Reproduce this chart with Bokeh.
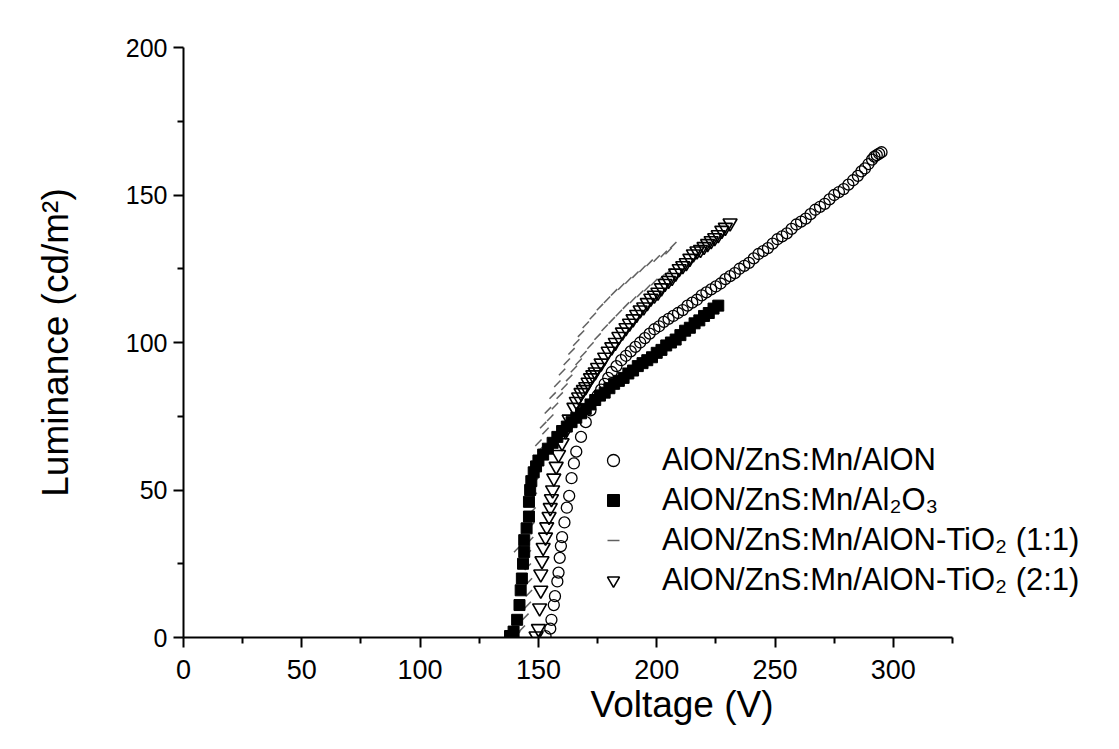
from bokeh.plotting import figure
from bokeh.models import Range1d, Legend, LegendItem, FixedTicker, Title
from bokeh.embed import file_html
from bokeh.resources import INLINE

# ---- data ----
alon_v = [153, 155, 155.5, 156.5, 157, 158, 158.5, 159, 159.5, 160, 161, 162, 163, 164, 165, 166,
          168, 170, 172, 174, 175, 176.5, 178, 179.5, 181, 183, 185, 187, 189, 191, 193, 195, 197,
          199, 201, 203, 205, 207, 209, 211, 213, 215, 217, 219, 221, 223, 225, 227, 229, 231, 233,
          235, 237, 239, 241, 243, 245, 247, 249, 251, 253, 255, 257, 259, 261, 263, 265, 267, 269,
          271, 273, 275, 277, 279, 281, 283, 285, 286.5, 288, 289.5, 291, 292, 293, 294, 295]
alon_l = [0.5, 3, 6, 11, 14, 19, 22, 27, 31, 34, 39, 44, 48, 54, 59, 63,
          68, 73, 77, 80.5, 82, 84, 86, 88, 90, 92, 94, 95.5, 97, 98.5, 100, 101.5, 103,
          104.5, 105.5, 107, 108, 109, 110, 111, 112.5, 113.5, 114.5, 116, 117, 118, 119, 120, 121.5, 122.5, 123.5,
          125, 126, 127, 128.5, 130, 131, 132, 133.5, 135, 136, 137, 138.5, 140, 141, 142, 143.5, 145, 146,
          147, 148.5, 150, 151, 152, 153.5, 155, 156.5, 158, 159, 160.5, 162, 163, 163.5, 164, 164.5]

al2o3_v = [138, 139.5, 141, 142, 142.5, 143, 143.5, 144, 144, 145, 146, 146, 146.5, 147, 148, 149,
           150, 152, 154, 156, 158, 160, 162, 164, 166, 168, 170, 172, 174, 176, 178, 180, 182, 184,
           186, 188, 190, 192, 194, 196, 198, 200, 202, 204, 206, 208, 210, 212, 214, 216, 218, 220,
           222, 224, 226]
al2o3_l = [0.5, 2, 6, 11, 16, 20, 25, 29, 33, 37, 41, 46, 50, 53, 56, 58,
           60, 62, 64, 66, 68, 70, 71.5, 73, 74.5, 76, 77.5, 79, 80.5, 82, 83, 84.5, 86, 87,
           88, 89.5, 90.5, 92, 93, 94, 95, 96.5, 97.5, 99, 100, 101, 102.5, 104, 105, 106.5, 107.5, 109,
           110, 111.5, 112.5]

tio11_v = [141, 141, 143, 144.5, 145.5, 146, 146, 145.5, 145.5, 146.5, 147, 147.5, 148, 148.5,
           149, 151, 153, 155, 157, 159, 161, 163, 165, 167, 169, 172, 175, 178, 181, 184, 187,
           190, 193, 196, 199, 202, 205,
           150, 152, 154, 156, 158, 160, 162, 164, 166, 168, 170, 173, 176, 179, 182, 185, 188,
           191, 194, 197, 200, 203, 205, 207]
tio11_l = [1, 30, 3, 7, 11, 15, 19, 24, 28.5, 33, 38, 43, 48, 53,
           57, 64, 70, 74.5, 78.5, 82, 85, 88, 91, 93.5, 96, 99, 102, 105, 107.5, 110, 112.5,
           114.5, 116.5, 118.5, 120.5, 122, 124,
           66, 72, 77, 82, 86, 90, 93.5, 97, 100, 103, 106, 109, 112, 114.5, 117, 119, 121,
           123, 125, 127, 128.5, 130, 131, 133]

tio21_v = [149, 150, 150.5, 151, 151, 151.5, 152, 153, 153.5, 154.5, 155, 155.5, 156, 156.5, 157.5, 158.5,
           160, 161.5, 163, 165, 166, 167, 168, 169, 170, 171, 172, 173, 174, 175, 176.5, 178,
           179.5, 181, 182.5, 184, 185.5, 187, 188.5, 190, 191.5, 193, 194.5, 196, 197.5, 199,
           200.5, 202, 203.5, 205, 206.5, 208, 209.5, 211, 212.5, 214, 215.5, 217, 218.5, 220,
           221.5, 223, 224.5, 226, 227.5, 229, 231]
tio21_l = [0.5, 3, 10, 16, 21.5, 26, 30.5, 34, 37.5, 41, 44, 47, 50, 54, 58, 62,
           66, 70, 74, 78, 80, 81.5, 83, 84, 85, 86.5, 88, 89, 90, 91.5, 93, 95,
           97, 98.5, 100, 102, 103.5, 105, 106.5, 108, 109.5, 111, 112, 113.5, 115, 116,
           117, 118.5, 120, 121, 122, 123.5, 125, 126, 127, 128.5, 130, 131, 131.5, 132.5,
           133.5, 134.5, 135.5, 136.5, 138, 139, 140.5]

labels = ["AlON/ZnS:Mn/AlON", "AlON/ZnS:Mn/Al\u2082O\u2083",
          "AlON/ZnS:Mn/AlON-TiO\u2082 (1:1)", "AlON/ZnS:Mn/AlON-TiO\u2082 (2:1)"]
x_ticks = [0, 50, 100, 150, 200, 250, 300]
x_minor = [25, 75, 125, 175, 225, 275, 325]
y_ticks = [0, 50, 100, 150, 200]
y_minor = [25, 75, 125, 175]

FONT = "Liberation Sans"

# frame: x 183..1111 px, axis drawn only over 0..325 V (769 px)
p = figure(width=1115, height=745, output_backend="svg", toolbar_location=None,
           x_range=Range1d(0, 325 * 928 / 769), y_range=Range1d(0, 200),
           min_border_left=183, min_border_right=4, min_border_top=47, min_border_bottom=108)
p.outline_line_color = None
p.xgrid.visible = False
p.ygrid.visible = False
p.background_fill_color = "white"
p.border_fill_color = "white"

for ax in (p.xaxis[0], p.yaxis[0]):
    ax.axis_line_width = 2
    ax.axis_line_color = "black"
    ax.major_tick_line_width = 2
    ax.minor_tick_line_width = 2
    ax.major_tick_out = 10
    ax.major_tick_in = 0
    ax.minor_tick_out = 6
    ax.minor_tick_in = 0
    ax.major_label_text_font = FONT
    ax.major_label_text_color = "black"
    ax.axis_label_text_font = FONT
    ax.axis_label_text_font_size = "37px"
    ax.axis_label_text_font_style = "normal"
    ax.axis_label_text_color = "black"

p.xaxis[0].bounds = (0, 325)
p.xaxis[0].ticker = FixedTicker(ticks=x_ticks, minor_ticks=x_minor)
p.yaxis[0].ticker = FixedTicker(ticks=y_ticks, minor_ticks=y_minor)
p.xaxis[0].major_label_text_font_size = "27px"
p.yaxis[0].major_label_text_font_size = "25px"
p.yaxis[0].axis_label = "Luminance (cd/m\u00b2)"
p.xaxis[0].major_label_standoff = 12
p.yaxis[0].major_label_standoff = 6
p.yaxis[0].axis_label_standoff = 47

p.add_layout(Title(text="Voltage (V)", align="left", offset=407, standoff=0,
                   text_font=FONT, text_font_size="37px", text_font_style="normal",
                   text_color="black"), "below")

r_11 = p.scatter(tio11_v, tio11_l, marker="dash", size=9, angle=0.8,
                 line_color="#606060", line_width=1.5)
r_alon = p.scatter(alon_v, alon_l, marker="circle", size=11, fill_color="white",
                   fill_alpha=0.0, line_color="black", line_width=1.3)
r_21 = p.scatter(tio21_v, tio21_l, marker="inverted_triangle", size=14, fill_color="white",
                 fill_alpha=0.0, line_color="black", line_width=1.6)
r_al2o3 = p.scatter(al2o3_v, al2o3_l, marker="square", size=11, fill_color="black",
                    line_color="black")

legend = Legend(items=[LegendItem(label=labels[0], renderers=[r_alon]),
                       LegendItem(label=labels[1], renderers=[r_al2o3]),
                       LegendItem(label=labels[2], renderers=[r_11]),
                       LegendItem(label=labels[3], renderers=[r_21])],
                location=(415, 37), border_line_color=None, background_fill_alpha=0.0,
                padding=0, margin=0, spacing=0, glyph_width=30, glyph_height=40,
                label_height=40, label_standoff=34,
                label_text_font=FONT, label_text_font_size="31px", label_text_color="black")
p.add_layout(legend, "center")

open("out.html", "w").write(file_html(p, INLINE))
